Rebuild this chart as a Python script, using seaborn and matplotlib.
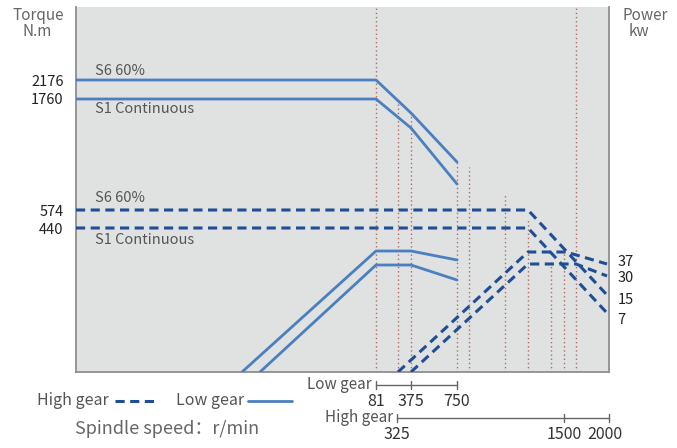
import matplotlib
matplotlib.use("Agg")
import matplotlib.pyplot as plt
import numpy as np
import pandas as pd
import seaborn as sns

# schematic positions (x = speed position, y = level)
low_x = [0, 300, 335, 381]
low_s6_torque = [292, 292, 259, 210]
low_s1_torque = [273, 273, 244, 188]
low_s6_power_x = [166, 300, 335, 381]
low_s6_power = [0, 121, 121, 112]
low_s1_power_x = [184, 300, 335, 381]
low_s1_power = [0, 107, 107, 92]

high_torque_x = [0, 452, 531]
high_s6_torque = [162, 162, 77]
high_s1_torque = [144, 144, 59]
high_s6_power_x = [322, 452, 490, 531]
high_s6_power = [0, 120, 120, 108]
high_s1_power_x = [335, 452, 500, 531]
high_s1_power = [0, 108, 108, 96]

guide_x = [300, 322, 335, 381, 393, 429, 452, 475, 488, 500]
guide_top = [365, 269, 257, 210, 205, 177, 152, 110, 119, 365]

torque_ticks = [292, 273, 162, 144]
torque_labels = ["2176", "1760", "574", "440"]
power_ticks = [112, 95, 74, 54]
power_labels = ["37", "30", "15", "7"]

low_gear_pos = [300, 335, 381]
low_gear_labels = ["81", "375", "750"]
high_gear_pos = [321, 488, 533]
high_gear_labels = ["325", "1500", "2000"]

sns.set_theme(style="white")
plt.rcParams['font.family'] = ['Noto Sans CJK SC', 'DejaVu Sans']

low_c = "#4a7fc1"
high_c = "#1f4e96"
red_c = "#b06a62"
txt_c = "#555555"

fig = plt.figure(figsize=(6.77, 4.48), dpi=100)
ax = fig.add_axes([76 / 677, 76 / 448, 533 / 677, 365 / 448])
ax.set_facecolor("#e0e1e1")

# guide lines
for gx, gt in zip(guide_x, guide_top):
    ax.plot([gx, gx], [0, gt], color=red_c, lw=1.0, linestyle=(0, (1, 2)), zorder=1)

def curve(x, y, color, dashed):
    df = pd.DataFrame({"x": x, "y": y})
    line = sns.lineplot(data=df, x="x", y="y", ax=ax, color=color, sort=False,
                        estimator=None, lw=2.2 if dashed else 2.0, zorder=3)
    if dashed:
        line.lines[-1].set_linestyle((0, (3, 1.8)))

curve(low_x, low_s6_torque, low_c, False)
curve(low_x, low_s1_torque, low_c, False)
curve(low_s6_power_x, low_s6_power, low_c, False)
curve(low_s1_power_x, low_s1_power, low_c, False)
curve(high_torque_x, high_s6_torque, high_c, True)
curve(high_torque_x, high_s1_torque, high_c, True)
curve(high_s6_power_x, high_s6_power, high_c, True)
curve(high_s1_power_x, high_s1_power, high_c, True)

ax.set_xlim(0, 533)
ax.set_ylim(0, 365)
ax.set_xlabel("")
ax.set_ylabel("")
ax.set_xticks([])
ax.set_yticks(torque_ticks)
ax.set_yticklabels(torque_labels, fontsize=10.5, color="#222222")
ax.tick_params(axis="y", length=0, pad=9)

for s in ["left", "bottom", "right"]:
    ax.spines[s].set_color("#8f8f8f")
    ax.spines[s].set_linewidth(1.3)
ax.spines["top"].set_visible(False)

ax2 = ax.twinx()
ax2.set_ylim(0, 365)
ax2.set_yticks(power_ticks)
ax2.set_yticklabels(power_labels, fontsize=10.5, color="#222222")
ax2.tick_params(axis="y", length=0, pad=6)
for s in ax2.spines.values():
    s.set_visible(False)

# curve labels
for ty, t in zip([301, 263, 174, 132], ["S6 60%", "S1 Continuous", "S6 60%", "S1 Continuous"]):
    ax.text(19, ty, t, fontsize=10.5, color=txt_c, va="center", ha="left")

# axis titles
ax.text(-38, 357, "Torque", fontsize=11, color="#666666", ha="center", va="center", clip_on=False)
ax.text(-39, 340, "N.m", fontsize=11, color="#666666", ha="center", va="center", clip_on=False)
ax.text(569, 357, "Power", fontsize=11, color="#666666", ha="center", va="center", clip_on=False)
ax.text(563, 340, "kw", fontsize=11, color="#666666", ha="center", va="center", clip_on=False)

# gear speed scales
def scale(pos, labels, y, name, lab_dy, last_shift=0):
    ax.plot([pos[0], pos[-1]], [y, y], color="#666666", lw=1.0, clip_on=False)
    for i, (p, l) in enumerate(zip(pos, labels)):
        ax.plot([p, p], [y - 4, y + 4], color="#666666", lw=1.0, clip_on=False)
        dx = last_shift if i == len(pos) - 1 else 0
        ax.text(p + dx, y + lab_dy, l, fontsize=11.5, color="#333333", ha="center", va="center", clip_on=False)
    ax.text(pos[0] - 4, y + 1, name, fontsize=11, color=txt_c, ha="right", va="center", clip_on=False)

scale(low_gear_pos, low_gear_labels, -13, "Low gear", -16)
scale(high_gear_pos, high_gear_labels, -46, "High gear", -16, last_shift=-4)

# legend
ax.text(-39, -28, "High gear", fontsize=11.5, color=txt_c, ha="left", va="center", clip_on=False)
ax.plot([39, 81], [-29, -29], color=high_c, lw=2.2, linestyle=(0, (3, 1.8)), clip_on=False)
ax.text(100, -28, "Low gear", fontsize=11.5, color=txt_c, ha="left", va="center", clip_on=False)
ax.plot([172, 216], [-29, -29], color=low_c, lw=2.0, clip_on=False)
ax.text(-1, -57, "Spindle speed：r/min", fontsize=13, color="#666666", ha="left", va="center", clip_on=False)

fig.savefig("out.png", dpi=100)
